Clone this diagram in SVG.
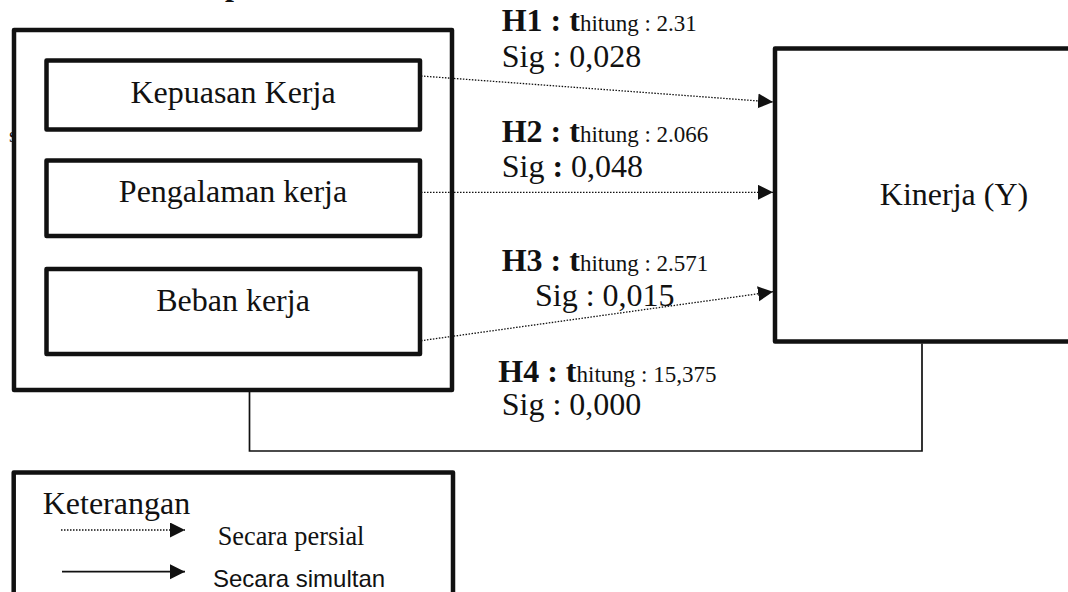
<svg xmlns="http://www.w3.org/2000/svg" width="1068" height="592" viewBox="0 0 1068 592">
  <style>
    .box { fill: #fff; stroke: #111; stroke-width: 4.5; stroke-linejoin: round; }
    .lbl { font-family: "Liberation Serif", "Times New Roman", serif; font-size: 32px; fill: #111; }
    .mid { text-anchor: middle; }
    .b { font-weight: bold; }
    .sm { font-size: 23px; }
    .dot { fill: none; stroke: #111; stroke-width: 1.3; stroke-dasharray: 1.5 1.5; }
    .solid { fill: none; stroke: #111; stroke-width: 1.7; }
    .sans { font-family: "Liberation Sans", Arial, sans-serif; font-size: 24px; fill: #111; }
  </style>
  <defs>
    <marker id="ah" markerUnits="userSpaceOnUse" markerWidth="16" markerHeight="16" refX="15" refY="7.5" orient="auto">
      <path d="M0,0 L15,7.5 L0,15 z" fill="#111"/>
    </marker>
  </defs>
  <rect width="1068" height="592" fill="#fff"/>

  <!-- cropped text fragments -->
  <text class="lbl b" x="225" y="-5">p</text>
  <text class="lbl" x="9" y="142" style="font-size:20px">s</text>

  <g id="variabel-x">
    <rect class="box" x="14" y="30" width="438" height="360"/>
  </g>
  <g id="kepuasan-kerja">
    <rect class="box" x="46.5" y="60.5" width="373.5" height="69"/>
    <text class="lbl mid" x="233" y="103">Kepuasan Kerja</text>
  </g>
  <g id="pengalaman-kerja">
    <rect class="box" x="46.5" y="160.5" width="373.5" height="75.5"/>
    <text class="lbl mid" x="233" y="202">Pengalaman kerja</text>
  </g>
  <g id="beban-kerja">
    <rect class="box" x="46.5" y="269" width="373.5" height="85"/>
    <text class="lbl mid" x="233" y="311">Beban kerja</text>
  </g>
  <g id="kinerja">
    <rect class="box" x="775" y="48.5" width="360" height="293"/>
    <text class="lbl mid" x="954" y="205">Kinerja (Y)</text>
  </g>

  <g id="connectors">
    <line class="dot" x1="421" y1="76" x2="773" y2="102" marker-end="url(#ah)"/>
    <line class="dot" x1="421" y1="192.3" x2="773" y2="192.3" marker-end="url(#ah)"/>
    <line class="dot" x1="421" y1="340.7" x2="773" y2="291.7" marker-end="url(#ah)"/>
    <polyline class="solid" points="249.5,392 249.5,451 922,451 922,343.5"/>
  </g>

  <g id="labels">
    <text class="lbl" x="501.7" y="30.7"><tspan class="b">H1 : t</tspan><tspan class="sm">hitung : 2.31</tspan></text>
    <text class="lbl" x="501.7" y="66.7">Sig : 0,028</text>
    <text class="lbl" x="501.7" y="141.7"><tspan class="b">H2 : t</tspan><tspan class="sm">hitung : 2.066</tspan></text>
    <text class="lbl" x="501.7" y="176.7">Sig <tspan class="b">:</tspan> 0,048</text>
    <text class="lbl" x="501.7" y="270.7"><tspan class="b">H3 : t</tspan><tspan class="sm">hitung : 2.571</tspan></text>
    <text class="lbl" x="535" y="306">Sig : 0,015</text>
    <text class="lbl" x="498.3" y="381.7"><tspan class="b">H4 : t</tspan><tspan class="sm">hitung : 15,375</tspan></text>
    <text class="lbl" x="501.7" y="415">Sig : 0,000</text>
  </g>

  <g id="legend">
    <rect class="box" x="13.7" y="472.5" width="439.3" height="140"/>
    <text class="lbl" x="42.7" y="514">Keterangan</text>
    <line class="dot" x1="61" y1="530" x2="185" y2="530" marker-end="url(#ah)"/>
    <text class="lbl" x="217.7" y="545" style="font-size:26.3px">Secara persial</text>
    <line class="solid" x1="62" y1="571.7" x2="185" y2="571.7" marker-end="url(#ah)"/>
    <text class="sans" x="213" y="586.7">Secara simultan</text>
  </g>
</svg>
